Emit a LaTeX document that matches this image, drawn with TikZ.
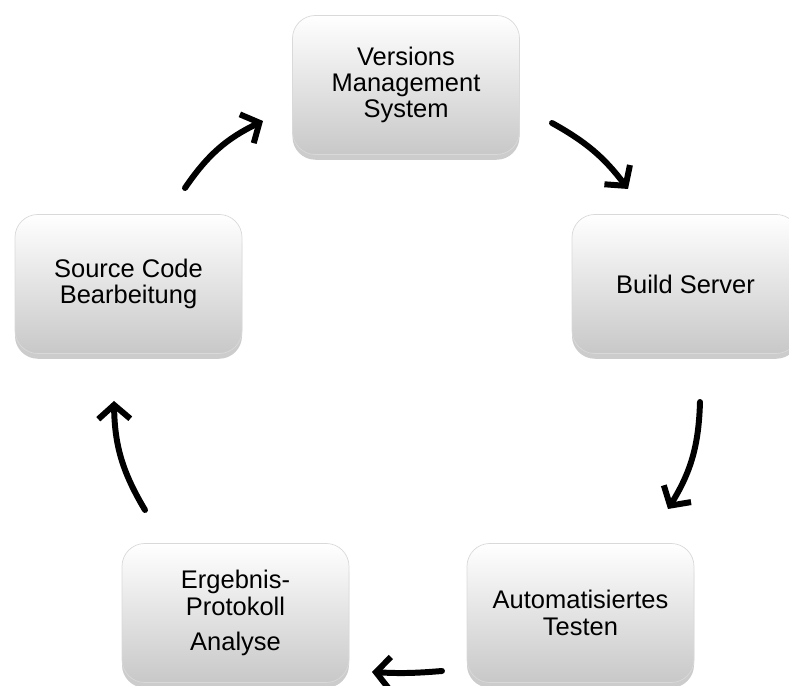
\documentclass[tikz,border=0pt]{standalone}
\usepackage{fontspec}
\setmainfont{Liberation Sans}
\usetikzlibrary{positioning, calc, shadows, arrows.meta}

\begin{document}
\begin{tikzpicture}[
        box/.style={rounded corners=13pt, minimum width=4.54cm, minimum height=2.78cm,
            align=center, top color=white, middle color=white, bottom color=boxgray,
            draw=black!15, thin,
            drop shadow={shadow xshift=0pt, shadow yshift=-3pt, opacity=0.4},
            font=\fontsize{14.5}{15}\selectfont},
        pfeil/.style={-{Straight Barb[length=2.8mm, width=6.4mm]}, line width=3.4pt, line cap=round}
    ]
        % Farben
        \definecolor{boxgray}{RGB}{200, 200, 200}

        \useasboundingbox (0, 0) rectangle (15.78, 13.72);

        % 1. Die fuenf Kaesten im Kreis
        \node[box] (box_vms) at (8.12, 12.02) {Versions\\Management\\System};
        \node[box] (box_build) at (13.71, 8.04) {Build Server};
        \node[box] (box_test) at (11.61, 1.46) {Automatisiertes\\Testen};
        \node[box] (box_analyse) at (4.71, 1.46) {Ergebnis-\\Protokoll\\[5pt]Analyse};
        \node[box] (box_source) at (2.57, 8.04) {Source Code\\Bearbeitung};

        % 2. Endpunkte der Pfeile (frei zwischen den Kaesten)
        \coordinate (p1_start) at (3.70, 9.96);
        \coordinate (p1_end) at (5.26, 11.30);
        \coordinate (p2_start) at (11.04, 11.26);
        \coordinate (p2_end) at (12.56, 9.94);
        \coordinate (p3_start) at (14.00, 5.68);
        \coordinate (p3_end) at (13.36, 3.54);
        \coordinate (p4_start) at (8.84, 0.30);
        \coordinate (p4_end) at (7.44, 0.28);
        \coordinate (p5_start) at (2.90, 3.52);
        \coordinate (p5_end) at (2.28, 5.70);

        % 3. Pfeile im Uhrzeigersinn
        \draw[pfeil] (p1_start) to[bend left=15] (p1_end);
        \draw[pfeil] (p2_start) to[bend left=12] (p2_end);
        \draw[pfeil] (p3_start) to[bend left=15] (p3_end);
        \draw[pfeil] (p4_start) to[bend left=4] (p4_end);
        \draw[pfeil] (p5_start) to[bend left=15] (p5_end);

    \end{tikzpicture}
\end{document}
